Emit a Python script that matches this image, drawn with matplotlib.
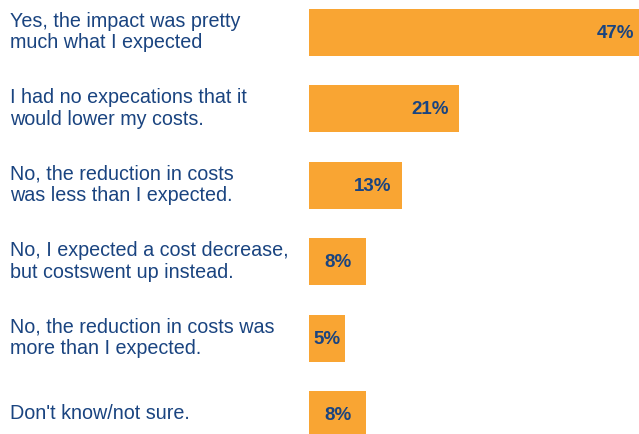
import matplotlib
matplotlib.use("Agg")
import matplotlib.pyplot as plt
import matplotlib.transforms as mtransforms

categories = [
    "Yes, the impact was pretty\nmuch what I expected",
    "I had no expecations that it\nwould lower my costs.",
    "No, the reduction in costs\nwas less than I expected.",
    "No, I expected a cost decrease,\nbut costswent up instead.",
    "No, the reduction in costs was\nmore than I expected.",
    "Don't know/not sure.",
]
values = [47, 21, 13, 8, 5, 8]
value_labels = ["47%", "21%", "13%", "8%", "5%", "8%"]

ORANGE = "#F9A533"
NAVY = "#1A4480"

W, H, DPI = 639, 435, 100
fig = plt.figure(figsize=(W / DPI, H / DPI), dpi=DPI)
ax = fig.add_axes([0, 0, 1, 1])

px_per_unit = 7.14
x0_px = 309
ax.set_xlim(-x0_px / px_per_unit, (W - x0_px) / px_per_unit)

step = 76.4
c0 = 33.5
ax.set_ylim((H - c0) / step, -c0 / step)

ypos = list(range(len(values)))
ax.barh(ypos, values, height=47 / step, color=ORANGE, left=0)

trans = mtransforms.blended_transform_factory(ax.transAxes, ax.transData)
for y, cat in zip(ypos, categories):
    ax.text(10 / W, y - 0.02, cat, transform=trans, ha="left", va="center",
            fontsize=14.2, color=NAVY, family="Liberation Sans", linespacing=1.18)

for y, v, lab in zip(ypos, values, value_labels):
    if v >= 10:
        ax.annotate(lab, xy=(v, y), xytext=(-7.5, 0), textcoords="offset points",
                    ha="right", va="center", fontsize=13.5, fontweight="bold",
                    color=NAVY, family="Liberation Sans", annotation_clip=False)
    else:
        ax.text(v / 2, y, lab, ha="center", va="center", fontsize=13.5,
                fontweight="bold", color=NAVY, family="Liberation Sans")

ax.axis("off")
fig.savefig("out.png", dpi=DPI)
